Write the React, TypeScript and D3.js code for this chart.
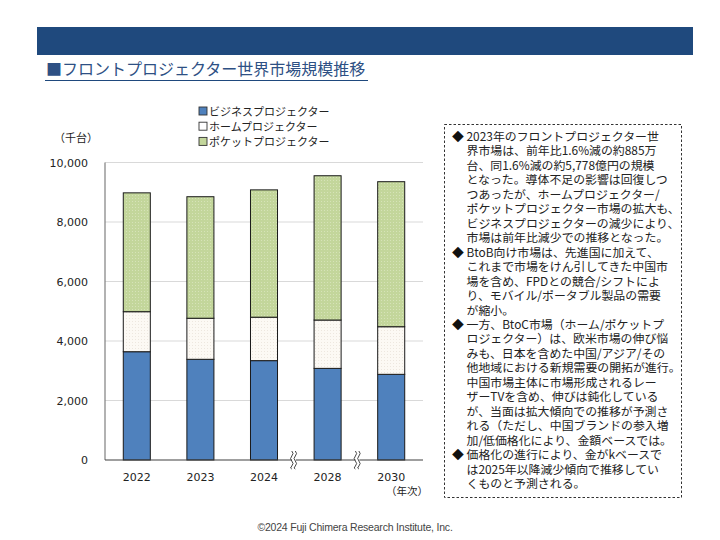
import React from "react";
import * as d3 from "d3";

// 出荷台数（千台）
const years = ["2022", "2023", "2024", "2028", "2030"];
const businessUnits = [3640, 3385, 3340, 3080, 2880];
const homeUnits = [1345, 1380, 1460, 1625, 1600];
const pocketUnits = [3995, 4085, 4280, 4850, 4875];

const seriesNames = ["ビジネスプロジェクター", "ホームプロジェクター", "ポケットプロジェクター"];
const yTicks = [0, 2000, 4000, 6000, 8000, 10000];
// 年次が飛ぶ位置に波線を入れる
const breaksAfter = ["2024", "2028"];

const noteBlocks = [
  [
    "2023年のフロントプロジェクター世",
    "界市場は、前年比1.6%減の約885万",
    "台、同1.6%減の約5,778億円の規模",
    "となった。導体不足の影響は回復しつ",
    "つあったが、ホームプロジェクター/",
    "ポケットプロジェクター市場の拡大も、",
    "ビジネスプロジェクターの減少により、",
    "市場は前年比減少での推移となった。",
  ],
  [
    "BtoB向け市場は、先進国に加えて、",
    "これまで市場をけん引してきた中国市",
    "場を含め、FPDとの競合/シフトによ",
    "り、モバイル/ポータブル製品の需要",
    "が縮小。",
  ],
  [
    "一方、BtoC市場（ホーム/ポケットプ",
    "ロジェクター）は、欧米市場の伸び悩",
    "みも、日本を含めた中国/アジア/その",
    "他地域における新規需要の開拓が進行。",
    "中国市場主体に市場形成されるレー",
    "ザーTVを含め、伸びは鈍化している",
    "が、当面は拡大傾向での推移が予測さ",
    "れる（ただし、中国ブランドの参入増",
    "加/低価格化により、金額ベースでは。",
  ],
  [
    "価格化の進行により、金がkベースで",
    "は2025年以降減少傾向で推移してい",
    "くものと予測される。",
  ],
];

const JP = "'Noto Sans CJK JP', 'Noto Sans', sans-serif";
const NUM = "'DejaVu Sans', Verdana, sans-serif";

const W = 720;
const H = 540;
const plot = { left: 105, right: 423, top: 162.5, bottom: 460 };

export default function App() {
  const x = d3
    .scaleBand<string>()
    .domain(years)
    .range([plot.left, plot.right])
    .paddingInner(0.575)
    .paddingOuter(0.2875);
  const y = d3.scaleLinear().domain([0, 10000]).range([plot.bottom, plot.top]);

  const rows = years.map((yr, i) => ({
    year: yr,
    business: businessUnits[i],
    home: homeUnits[i],
    pocket: pocketUnits[i],
  }));
  const keys = ["business", "home", "pocket"];
  const stacked = d3.stack<any>().keys(keys)(rows);
  const fills = ["#4F81BD", "url(#homeDots)", "url(#pocketDots)"];
  const legendFills = ["#4F81BD", "#FFFFFF", "#C3D69B"];

  const step = x.step();
  const lineH = 14.46;
  const noteLines: { text: string; first: boolean }[] = [];
  noteBlocks.forEach((block) =>
    block.forEach((ln, li) => noteLines.push({ text: ln, first: li === 0 }))
  );

  return (
    <svg
      width={W}
      height={H}
      style={{ position: "absolute", left: 0, top: 0, background: "#fff" }}
    >
      <defs>
        <pattern id="pocketDots" width="3" height="3" patternUnits="userSpaceOnUse">
          <rect width="3" height="3" fill="#C3D69B" />
          <rect x="0" y="0" width="1" height="1" fill="#D6E3B8" />
        </pattern>
        <pattern id="homeDots" width="3" height="3" patternUnits="userSpaceOnUse">
          <rect width="3" height="3" fill="#FCF9F4" />
          <rect x="0" y="0" width="1" height="1" fill="#EDE7DF" />
        </pattern>
      </defs>

      {/* header band and title */}
      <rect x={37} y={27} width={656} height={28} fill="#1F497D" />
      <text x={46} y={75} fontFamily={JP} fontSize={16} fill="#2E5084">
        ■フロントプロジェクター世界市場規模推移
      </text>
      <line x1={45} x2={368} y1={80.5} y2={80.5} stroke="#1F497D" strokeWidth={1} />

      {/* gridlines */}
      {yTicks
        .filter((t) => t > 0)
        .map((t) => (
          <line
            key={t}
            x1={plot.left}
            x2={plot.right}
            y1={y(t)}
            y2={y(t)}
            stroke="#D9D9D9"
            strokeWidth={1}
          />
        ))}

      {/* y ticks */}
      {yTicks.map((t) => (
        <text
          key={t}
          x={88}
          y={y(t) + 4}
          textAnchor="end"
          fontFamily={NUM}
          fontSize={11}
          fill="#222"
        >
          {d3.format(",")(t)}
        </text>
      ))}
      <text x={54} y={142} fontFamily={JP} fontSize={11} fill="#222">
        （千台）
      </text>

      {/* stacked bars */}
      {stacked.map((layer, si) =>
        layer.map((d) => (
          <rect
            key={`${si}-${d.data.year}`}
            x={x(d.data.year)!}
            y={y(d[1])}
            width={x.bandwidth()}
            height={y(d[0]) - y(d[1])}
            fill={fills[si]}
            stroke="#1A1A1A"
            strokeWidth={1}
          />
        ))
      )}

      {/* axes */}
      <line x1={plot.left} x2={plot.left} y1={plot.top} y2={plot.bottom} stroke="#7F7F7F" strokeWidth={1.2} />
      <line x1={plot.left} x2={plot.right} y1={plot.bottom} y2={plot.bottom} stroke="#404040" strokeWidth={1.2} />

      {/* axis breaks */}
      {breaksAfter.map((yr) => {
        const bx = x(yr)! + x.bandwidth() + (step - x.bandwidth()) / 2 - 3;
        const wave = (ox: number) =>
          `M${ox},${plot.bottom - 9} q2.5,2.5 0,5 q-2.5,2.5 0,5 q2.5,2.5 0,5 q-2.5,2.5 0,3`;
        return (
          <g key={yr}>
            <rect x={bx - 1} y={plot.bottom - 3} width={4} height={6} fill="#fff" />
            <path d={wave(bx - 1)} fill="none" stroke="#333" strokeWidth={0.9} />
            <path d={wave(bx + 2.5)} fill="none" stroke="#333" strokeWidth={0.9} />
          </g>
        );
      })}

      {/* x labels */}
      {years.map((yr) => (
        <text
          key={yr}
          x={x(yr)! + x.bandwidth() / 2}
          y={481}
          textAnchor="middle"
          fontFamily={NUM}
          fontSize={11}
          fill="#222"
        >
          {yr}
        </text>
      ))}
      <text x={386} y={495} fontFamily={JP} fontSize={10.5} fill="#222">
        （年次）
      </text>

      {/* legend */}
      {seriesNames.map((name, i) => (
        <g key={name} transform={`translate(199, ${107 + i * 15.2})`}>
          <rect x={0} y={0} width={8} height={8} fill={legendFills[i]} stroke="#333" strokeWidth={0.9} />
          <text x={10} y={8.5} fontFamily={JP} fontSize={11} fill="#222">
            {name}
          </text>
        </g>
      ))}

      {/* commentary box: one multi-line text */}
      <rect
        x={444.5}
        y={124.5}
        width={237}
        height={373}
        fill="none"
        stroke="#333"
        strokeWidth={1}
        strokeDasharray="2.5,2"
      />
      <text fontFamily={JP} fontSize={11.9} fill="#222">
        {noteLines.map((ln, i) => (
          <React.Fragment key={i}>
            {ln.first && (
              <tspan x={452} y={141 + i * lineH} fill="#111">
                ◆
              </tspan>
            )}
            <tspan x={466.5} y={141 + i * lineH}>
              {ln.text}
            </tspan>
          </React.Fragment>
        ))}
      </text>

      {/* footer */}
      <text
        x={355}
        y={531}
        textAnchor="middle"
        fontFamily="'Liberation Sans', Arial, sans-serif"
        fontSize={10.5}
        letterSpacing={-0.2}
        fill="#444"
      >
        ©2024 Fuji Chimera Research Institute, Inc.
      </text>
    </svg>
  );
}
